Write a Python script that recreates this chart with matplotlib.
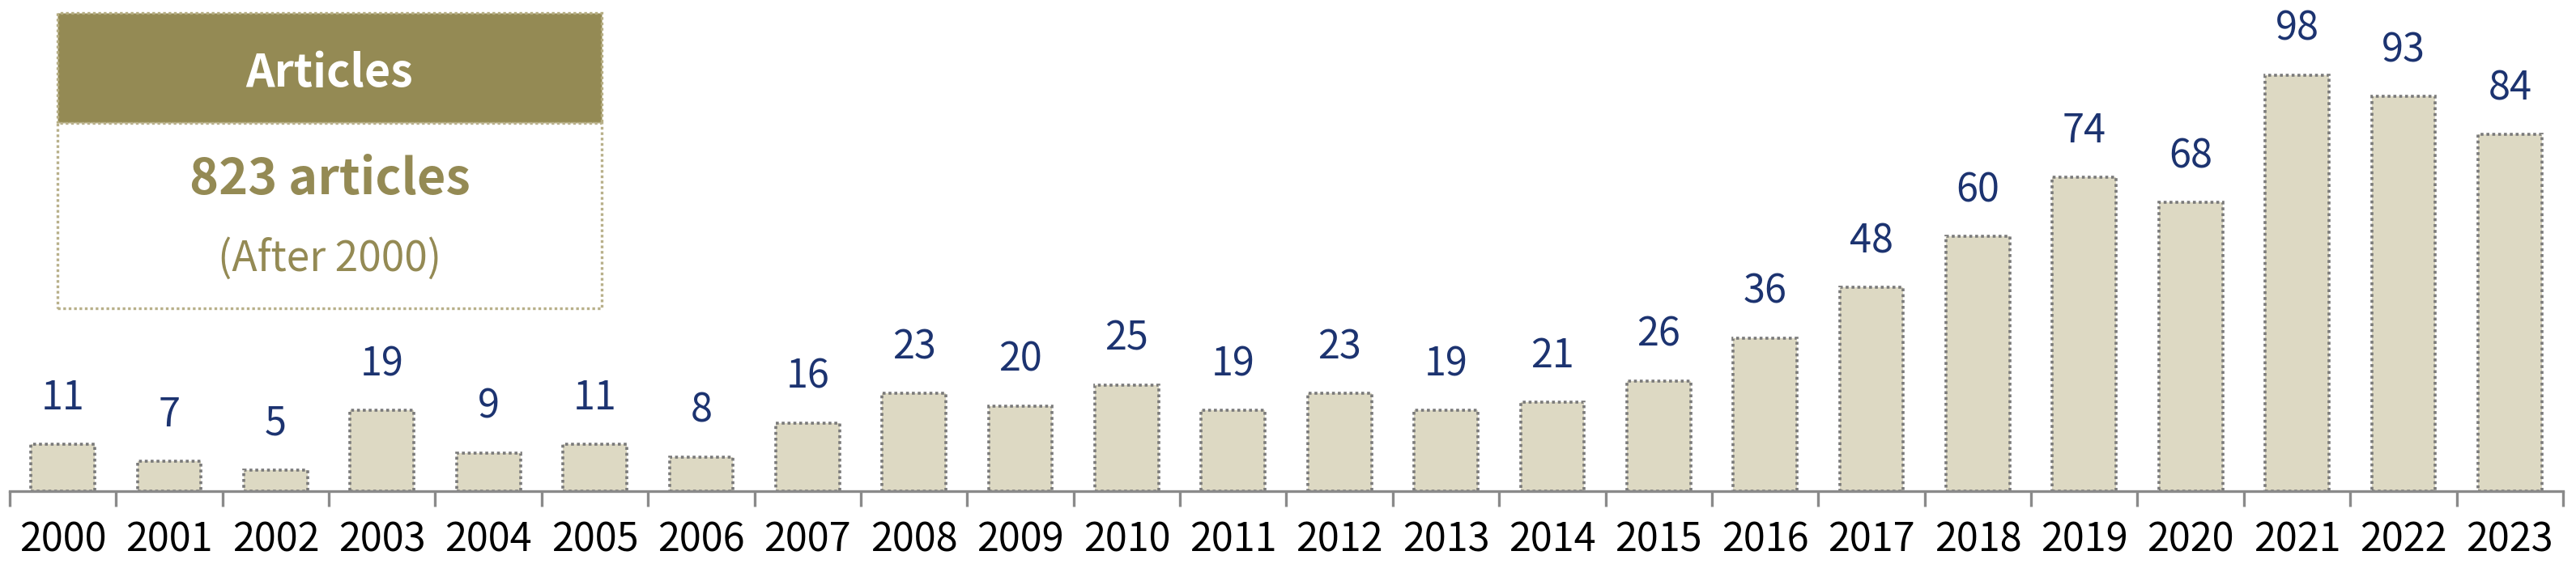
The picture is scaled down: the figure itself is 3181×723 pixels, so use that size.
import matplotlib
matplotlib.use("Agg")
import matplotlib.pyplot as plt
from matplotlib.patches import Rectangle

years = [str(y) for y in range(2000, 2024)]
counts = [11, 7, 5, 19, 9, 11, 8, 16, 23, 20, 25, 19, 23, 19, 21, 26, 36, 48, 60, 74, 68, 98, 93, 84]
box_title = "Articles"
box_total = "823 articles"
box_note = "(After 2000)"

FONT = ["Noto Sans CJK KR", "DejaVu Sans"]
plt.rcParams["font.family"] = FONT
OLIVE = "#948A54"; TAN = "#DDD9C3"; NAVY = "#1C3370"; GREY = "#7A7A7A"

W, H = 3181, 723
fig = plt.figure(figsize=(W/100, H/100), dpi=100)
ax = fig.add_axes([12/W, (H-607)/H, (3165-12)/W, 607/H])
x = range(len(years))
ax.bar(x, counts, width=0.6, color=TAN, edgecolor=GREY, linewidth=2.6, linestyle=(0, (1, 1)), zorder=2)
for i, v in enumerate(counts):
    ax.annotate(str(v), (i, v), xytext=(0, 41), textcoords="offset points",
                ha="center", va="center", fontsize=35, color=NAVY)
ax.set_xlim(-0.5, len(years)-0.5)
ax.set_ylim(0, 607/5.245)
for s in ["top", "right", "left"]:
    ax.spines[s].set_visible(False)
ax.spines["bottom"].set_color("#8A8A8A"); ax.spines["bottom"].set_linewidth(2.4)
ax.set_yticks([])
ax.set_xticks(list(x)); ax.set_xticklabels(years, fontsize=35)
ax.tick_params(axis="x", which="major", length=0, pad=26)
ax.set_xticks([i-0.5 for i in range(len(years)+1)], minor=True)
ax.tick_params(axis="x", which="minor", length=14, width=2.4, color="#8A8A8A")

# summary box
x0, x1 = 71/W, 743/W
ytop, ymid, ybot = 1-16/H, 1-152/H, 1-381/H
fig.patches.append(Rectangle((x0, ymid), x1-x0, ytop-ymid, transform=fig.transFigure,
                             facecolor=OLIVE, edgecolor="#B5AD82", linewidth=2.4, linestyle=(0, (1, 1)), zorder=5))
fig.patches.append(Rectangle((x0, ybot), x1-x0, ymid-ybot, transform=fig.transFigure,
                             facecolor="white", edgecolor="#B8B08A", linewidth=2.4, linestyle=(0, (1, 1)), zorder=5))
xc = (x0+x1)/2
fig.text(xc, 1-91/H, box_title, ha="center", va="center", fontsize=40, fontweight="bold", color="white", zorder=6)
fig.text(xc, 1-222/H, box_total, ha="center", va="center", fontsize=44, fontweight="bold", color=OLIVE, zorder=6)
fig.text(xc, 1-320/H, box_note, ha="center", va="center", fontsize=37, color=OLIVE, zorder=6)

fig.savefig("out.png", dpi=100)
